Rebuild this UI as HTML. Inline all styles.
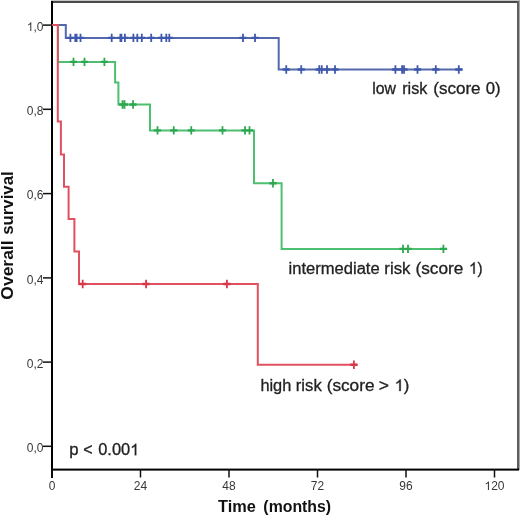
<!DOCTYPE html>
<html><head><meta charset="utf-8"><style>
html,body{margin:0;padding:0;background:#fff;}
body{width:520px;height:516px;overflow:hidden;}
svg{display:block;will-change:transform;}
text{font-family:"Liberation Sans",sans-serif;}
.tl{font-size:12px;fill:#383838;}
.lb{font-size:16px;fill:#222;stroke:#222;stroke-width:0.3px;}
.tt{font-size:16px;font-weight:bold;fill:#111;}
</style></head><body>
<svg width="520" height="516" viewBox="0 0 520 516">
<rect x="0" y="0" width="520" height="516" fill="#fff"/>
<rect x="51" y="0" width="468" height="1" fill="#c4c4c4"/>
<rect x="51" y="1" width="467" height="2" fill="#4a4a4a"/>
<rect x="517" y="1" width="2" height="469" fill="#5e5e5e"/>
<rect x="519" y="0" width="1" height="470" fill="#a8a8a8"/>
<rect x="51" y="1" width="2" height="477" fill="#000"/>
<rect x="51" y="468.6" width="468" height="2" fill="#000"/>
<rect x="43" y="24.35" width="9" height="1.5" fill="#111"/>
<path d="M763 0H583V1147Q518 1085 412 1023Q305 961 223 930V1104Q371 1174 482 1274Q593 1374 640 1466H763Z" class="tl" vector-effect="non-scaling-stroke" transform="translate(26.82,30.9) scale(0.00586,-0.00586)"/>
<text x="33.49" y="30.9" class="tl" textLength="10.01" lengthAdjust="spacingAndGlyphs">,0</text>
<rect x="43" y="108.55" width="9" height="1.5" fill="#111"/>
<text x="26.82" y="115.1" class="tl" textLength="16.68" lengthAdjust="spacingAndGlyphs">0,8</text>
<rect x="43" y="192.85" width="9" height="1.5" fill="#111"/>
<text x="26.82" y="199.4" class="tl" textLength="16.68" lengthAdjust="spacingAndGlyphs">0,6</text>
<rect x="43" y="277.15" width="9" height="1.5" fill="#111"/>
<text x="26.82" y="283.7" class="tl" textLength="16.68" lengthAdjust="spacingAndGlyphs">0,4</text>
<rect x="43" y="361.35" width="9" height="1.5" fill="#111"/>
<text x="26.82" y="367.9" class="tl" textLength="16.68" lengthAdjust="spacingAndGlyphs">0,2</text>
<rect x="43" y="445.55" width="9" height="1.5" fill="#111"/>
<text x="26.82" y="452.1" class="tl" textLength="16.68" lengthAdjust="spacingAndGlyphs">0,0</text>
<rect x="51.25" y="469" width="1.5" height="8.5" fill="#111"/>
<text x="48.66" y="490" class="tl" textLength="6.67" lengthAdjust="spacingAndGlyphs">0</text>
<rect x="139.75" y="469" width="1.5" height="8.5" fill="#111"/>
<text x="133.83" y="490" class="tl" textLength="13.35" lengthAdjust="spacingAndGlyphs">24</text>
<rect x="228.25" y="469" width="1.5" height="8.5" fill="#111"/>
<text x="222.33" y="490" class="tl" textLength="13.35" lengthAdjust="spacingAndGlyphs">48</text>
<rect x="316.75" y="469" width="1.5" height="8.5" fill="#111"/>
<text x="310.83" y="490" class="tl" textLength="13.35" lengthAdjust="spacingAndGlyphs">72</text>
<rect x="405.25" y="469" width="1.5" height="8.5" fill="#111"/>
<text x="399.33" y="490" class="tl" textLength="13.35" lengthAdjust="spacingAndGlyphs">96</text>
<rect x="493.75" y="469" width="1.5" height="8.5" fill="#111"/>
<path d="M763 0H583V1147Q518 1085 412 1023Q305 961 223 930V1104Q371 1174 482 1274Q593 1374 640 1466H763Z" class="tl" vector-effect="non-scaling-stroke" transform="translate(484.49,490) scale(0.00586,-0.00586)"/>
<text x="491.16" y="490" class="tl" textLength="13.35" lengthAdjust="spacingAndGlyphs">20</text>
<path d="M52,25 H65.8 V37.9 H278.7 V69.5 H462.7" fill="none" stroke="#5468ac" stroke-width="2"/>
<path d="M66.80,37.9 H74.00 M71.70,37.9 H78.90 M73.00,37.9 H80.20 M76.90,37.9 H84.10 M108.10,37.9 H115.30 M116.80,37.9 H124.00 M117.80,37.9 H125.00 M121.30,37.9 H128.50 M129.80,37.9 H137.00 M133.70,37.9 H140.90 M138.20,37.9 H145.40 M147.60,37.9 H154.80 M157.80,37.9 H165.00 M162.70,37.9 H169.90 M165.70,37.9 H172.90 M239.40,37.9 H246.60 M251.40,37.9 H258.60 M282.65,69.5 H289.85 M297.65,69.5 H304.85 M315.65,69.5 H322.85 M318.15,69.5 H325.35 M323.40,69.5 H330.60 M331.40,69.5 H338.60 M391.80,69.5 H399.00 M398.50,69.5 H405.70 M400.40,69.5 H407.60 M413.90,69.5 H421.10 M432.20,69.5 H439.40 M455.20,69.5 H462.40 " fill="none" stroke="#3E58AC" stroke-width="2.4"/>
<path d="M70.40,33.70 V42.10 M75.30,33.70 V42.10 M76.60,33.70 V42.10 M80.50,33.70 V42.10 M111.70,33.70 V42.10 M120.40,33.70 V42.10 M121.40,33.70 V42.10 M124.90,33.70 V42.10 M133.40,33.70 V42.10 M137.30,33.70 V42.10 M141.80,33.70 V42.10 M151.20,33.70 V42.10 M161.40,33.70 V42.10 M166.30,33.70 V42.10 M169.30,33.70 V42.10 M243.00,33.70 V42.10 M255.00,33.70 V42.10 M286.25,65.30 V73.70 M301.25,65.30 V73.70 M319.25,65.30 V73.70 M321.75,65.30 V73.70 M327.00,65.30 V73.70 M335.00,65.30 V73.70 M395.40,65.30 V73.70 M402.10,65.30 V73.70 M404.00,65.30 V73.70 M417.50,65.30 V73.70 M435.80,65.30 V73.70 M458.80,65.30 V73.70 " fill="none" stroke="#3E58AC" stroke-width="1.8"/>
<path d="M52,25 H58 V61.9 H115.1 V82.5 H118.4 V104.5 H150 V130.4 H254 V183.3 H281.6 V248.9 H447.2" fill="none" stroke="#4cc070" stroke-width="2"/>
<path d="M69.90,61.9 H77.10 M80.90,61.9 H88.10 M100.80,61.9 H108.00 M118.90,104.5 H126.10 M120.90,104.5 H128.10 M129.40,104.5 H136.60 M153.90,130.4 H161.10 M170.15,130.4 H177.35 M187.65,130.4 H194.85 M218.90,130.4 H226.10 M241.40,130.4 H248.60 M245.90,130.4 H253.10 M269.40,183.3 H276.60 M399.40,248.9 H406.60 M404.40,248.9 H411.60 M439.80,248.9 H447.00 " fill="none" stroke="#2EA850" stroke-width="2.4"/>
<path d="M73.50,57.70 V66.10 M84.50,57.70 V66.10 M104.40,57.70 V66.10 M122.50,100.30 V108.70 M124.50,100.30 V108.70 M133.00,100.30 V108.70 M157.50,126.20 V134.60 M173.75,126.20 V134.60 M191.25,126.20 V134.60 M222.50,126.20 V134.60 M245.00,126.20 V134.60 M249.50,126.20 V134.60 M273.00,179.10 V187.50 M403.00,244.70 V253.10 M408.00,244.70 V253.10 M443.40,244.70 V253.10 " fill="none" stroke="#2EA850" stroke-width="1.8"/>
<path d="M52,25 H57.8 V121.6 H60.9 V154.5 H64 V186.7 H68.6 V219 H74.4 V251.6 H79 V284 H257.8 V364.8 H357.5" fill="none" stroke="#e0505f" stroke-width="2"/>
<path d="M79.10,284 H86.30 M142.50,284 H149.70 M223.30,284 H230.50 M350.30,364.8 H357.50 " fill="none" stroke="#d83848" stroke-width="2.4"/>
<path d="M82.70,279.80 V288.20 M146.10,279.80 V288.20 M226.90,279.80 V288.20 M353.90,360.60 V369.00 " fill="none" stroke="#d83848" stroke-width="1.8"/>
<text x="372.18" y="94.3" class="lb" textLength="23.73" lengthAdjust="spacingAndGlyphs">low</text>
<text x="402.18" y="94.3" class="lb" textLength="25.15" lengthAdjust="spacingAndGlyphs">risk</text>
<text x="433.29" y="94.3" class="lb" textLength="47.31" lengthAdjust="spacingAndGlyphs">(score</text>
<text x="485.70" y="94.3" class="lb" textLength="14.89" lengthAdjust="spacingAndGlyphs">0)</text>
<text x="288.64" y="273.8" class="lb" textLength="91.04" lengthAdjust="spacingAndGlyphs">intermediate</text>
<text x="384.34" y="273.8" class="lb" textLength="26.09" lengthAdjust="spacingAndGlyphs">risk</text>
<text x="415.48" y="273.8" class="lb" textLength="47.83" lengthAdjust="spacingAndGlyphs">(score</text>
<path d="M763 0H583V1147Q518 1085 412 1023Q305 961 223 930V1104Q371 1174 482 1274Q593 1374 640 1466H763Z" class="lb" vector-effect="non-scaling-stroke" transform="translate(468.98,273.8) scale(0.00748,-0.00781)"/>
<text x="477.50" y="273.8" class="lb" textLength="5.10" lengthAdjust="spacingAndGlyphs">)</text>
<text x="260.42" y="391.0" class="lb" textLength="30.89" lengthAdjust="spacingAndGlyphs">high</text>
<text x="295.84" y="391.0" class="lb" textLength="25.88" lengthAdjust="spacingAndGlyphs">risk</text>
<text x="326.68" y="391.0" class="lb" textLength="47.83" lengthAdjust="spacingAndGlyphs">(score</text>
<text x="378.79" y="391.0" class="lb" textLength="10.22" lengthAdjust="spacingAndGlyphs">&gt;</text>
<path d="M763 0H583V1147Q518 1085 412 1023Q305 961 223 930V1104Q371 1174 482 1274Q593 1374 640 1466H763Z" class="lb" vector-effect="non-scaling-stroke" transform="translate(394.53,391.0) scale(0.00816,-0.00781)"/>
<text x="403.82" y="391.0" class="lb" textLength="5.56" lengthAdjust="spacingAndGlyphs">)</text>
<text x="69.18" y="455.2" class="lb" textLength="9.28" lengthAdjust="spacingAndGlyphs">p</text>
<text x="83.16" y="455.2" class="lb" textLength="9.38" lengthAdjust="spacingAndGlyphs">&lt;</text>
<text x="98.21" y="455.2" class="lb" textLength="31.93" lengthAdjust="spacingAndGlyphs">0.00</text>
<path d="M763 0H583V1147Q518 1085 412 1023Q305 961 223 930V1104Q371 1174 482 1274Q593 1374 640 1466H763Z" class="lb" vector-effect="non-scaling-stroke" transform="translate(130.14,455.2) scale(0.00801,-0.00781)"/>
<text x="217.97" y="512.2" class="tt" textLength="37.84" lengthAdjust="spacingAndGlyphs">Time</text>
<text x="263.36" y="512.2" class="tt" textLength="67.78" lengthAdjust="spacingAndGlyphs">(months)</text>
<g transform="translate(13.2,300.0) rotate(-90)"><text x="0.33" y="0" class="tt" textLength="59.25" lengthAdjust="spacingAndGlyphs">Overall</text><text x="65.16" y="0" class="tt" textLength="63.58" lengthAdjust="spacingAndGlyphs">survival</text></g>
</svg>
</body></html>
